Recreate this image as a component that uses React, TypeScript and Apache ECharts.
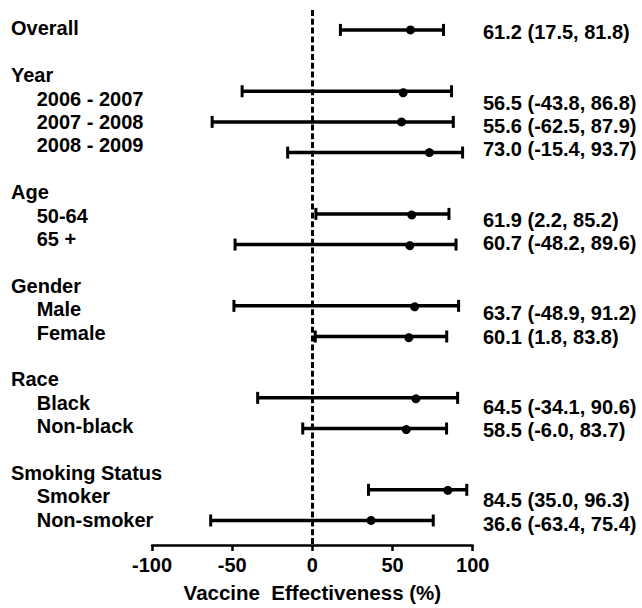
import React, { useEffect, useRef } from "react";
import * as echarts from "echarts";

// ---- data ----
const groupNames = ["Overall", "Year", "Age", "Gender", "Race", "Smoking Status"];
const groupItems: string[][] = [
  [],
  ["2006 - 2007", "2007 - 2008", "2008 - 2009"],
  ["50-64", "65 +"],
  ["Male", "Female"],
  ["Black", "Non-black"],
  ["Smoker", "Non-smoker"],
];
// one estimate per row: Overall first, then each group's items in order
const estimates = [61.2, 56.5, 55.6, 73.0, 61.9, 60.7, 63.7, 60.1, 64.5, 58.5, 84.5, 36.6];
const lowerCI = [17.5, -43.8, -62.5, -15.4, 2.2, -48.2, -48.9, 1.8, -34.1, -6.0, 35.0, -63.4];
const upperCI = [81.8, 86.8, 87.9, 93.7, 85.2, 89.6, 91.2, 83.8, 90.6, 83.7, 96.3, 75.4];
const xTicks = [-100, -50, 0, 50, 100];
const xTitle = "Vaccine  Effectiveness (%)";

const FONT = "'Liberation Sans', Arial, Helvetica, sans-serif";

export default function App() {
  const ref = useRef<HTMLDivElement>(null);

  useEffect(() => {
    document.body.style.margin = "0";
    if (!ref.current) return;
    const chart = echarts.init(ref.current, null, { renderer: "svg" });

    const headerLines: string[] = [];
    const itemLines: string[] = [];
    const rightLines: string[] = [];
    const barData: number[][] = [];
    let row = 0;
    let slot = 0;
    let blankId = 0;
    const blank = () => `__b${blankId++}`;
    const fmt = (i: number) =>
      `${estimates[i].toFixed(1)} (${lowerCI[i].toFixed(1)}, ${upperCI[i].toFixed(1)})`;
    groupNames.forEach((g, gi) => {
      if (gi > 0) {
        headerLines.push(blank());
        itemLines.push(blank());
        rightLines.push(blank());
        slot += 1;
      }
      headerLines.push(g);
      itemLines.push(blank());
      if (groupItems[gi].length === 0) {
        rightLines.push(fmt(row));
        barData.push([slot, lowerCI[row], upperCI[row], estimates[row]]);
        row++;
        slot++;
      } else {
        rightLines.push(blank());
        groupItems[gi].forEach((it) => {
          headerLines.push(blank());
          itemLines.push(it);
          rightLines.push(fmt(row));
          barData.push([slot, lowerCI[row], upperCI[row], estimates[row]]);
          row++;
          slot++;
        });
      }
    });
    const nLines = headerLines.length;
    const linePitch = 23.4;
    const labelTop = 28.3 - linePitch / 2;
    const labelH = linePitch * nLines;

    const hideFmt = (v: string) => (v.startsWith("__b") ? "" : v);
    const textStyle = {
      color: "#000",
      fontWeight: "bold" as const,
      fontFamily: FONT,
      fontSize: 20,
    };

    const hiddenX = (gridIndex: number) => ({
      type: "value",
      gridIndex,
      min: 0,
      max: 1,
      show: false,
    });

    const labelAxis = (gridIndex: number, data: string[], offset: number) => ({
      type: "category",
      gridIndex,
      data,
      inverse: true,
      position: "left",
      offset,
      axisLine: { show: false },
      axisTick: { show: false },
      splitLine: { show: false },
      axisLabel: {
        ...textStyle,
        interval: 0,
        align: "left",
        margin: 0,
        formatter: hideFmt,
      },
    });

    const option: any = {
      animation: false,
      backgroundColor: "#fff",
      grid: [
        { left: 152, right: 169.3, top: 10, bottom: 63 },
        { left: 36.7, width: 100, top: labelTop, height: labelH },
        { left: 483, width: 100, top: labelTop + 4, height: labelH },
      ],
      xAxis: [
        {
          type: "value",
          gridIndex: 0,
          position: "bottom",
          min: xTicks[0],
          max: xTicks[xTicks.length - 1],
          interval: 50,
          axisLine: { show: true, onZero: false, lineStyle: { color: "#000", width: 2.5 } },
          axisTick: { show: true, length: 6, lineStyle: { color: "#000", width: 2.5 } },
          splitLine: { show: false },
          axisLabel: { ...textStyle, margin: 10 },
          name: xTitle,
          nameLocation: "middle",
          nameGap: 37,
          nameTextStyle: { ...textStyle, fontSize: 20.5 },
        },
        hiddenX(1),
        hiddenX(2),
      ],
      yAxis: [
        {
          type: "value",
          gridIndex: 0,
          inverse: true,
          min: -0.65,
          max: 16.8,
          show: false,
        },
        labelAxis(1, headerLines, 25.7),
        labelAxis(1, itemLines, 0),
        labelAxis(2, rightLines, 0),
      ],
      series: [
        {
          type: "custom",
          xAxisIndex: 0,
          yAxisIndex: 0,
          data: barData,
          encode: { x: [1, 2, 3], y: 0 },
          renderItem: (params: any, api: any) => {
            const s = api.value(0);
            const lo = api.coord([api.value(1), s]);
            const hi = api.coord([api.value(2), s]);
            const est = api.coord([api.value(3), s]);
            const y = lo[1];
            const capH = 6;
            const st = { stroke: "#000", lineWidth: 3.5 };
            return {
              type: "group",
              children: [
                { type: "line", shape: { x1: lo[0], y1: y, x2: hi[0], y2: y }, style: st },
                { type: "line", shape: { x1: lo[0], y1: y - capH, x2: lo[0], y2: y + capH }, style: { stroke: "#000", lineWidth: 3 } },
                { type: "line", shape: { x1: hi[0], y1: y - capH, x2: hi[0], y2: y + capH }, style: { stroke: "#000", lineWidth: 3 } },
                { type: "circle", shape: { cx: est[0], cy: y, r: 4.5 }, style: { fill: "#000" } },
              ],
            };
          },
          markLine: {
            silent: true,
            symbol: "none",
            label: { show: false },
            lineStyle: { color: "#000", width: 3, type: [6, 2.8] },
            data: [{ xAxis: 0 }],
          },
          z: 3,
        },
      ],
    };

    chart.setOption(option);
    return () => chart.dispose();
  }, []);

  return <div ref={ref} style={{ width: 642, height: 608 }} />;
}
